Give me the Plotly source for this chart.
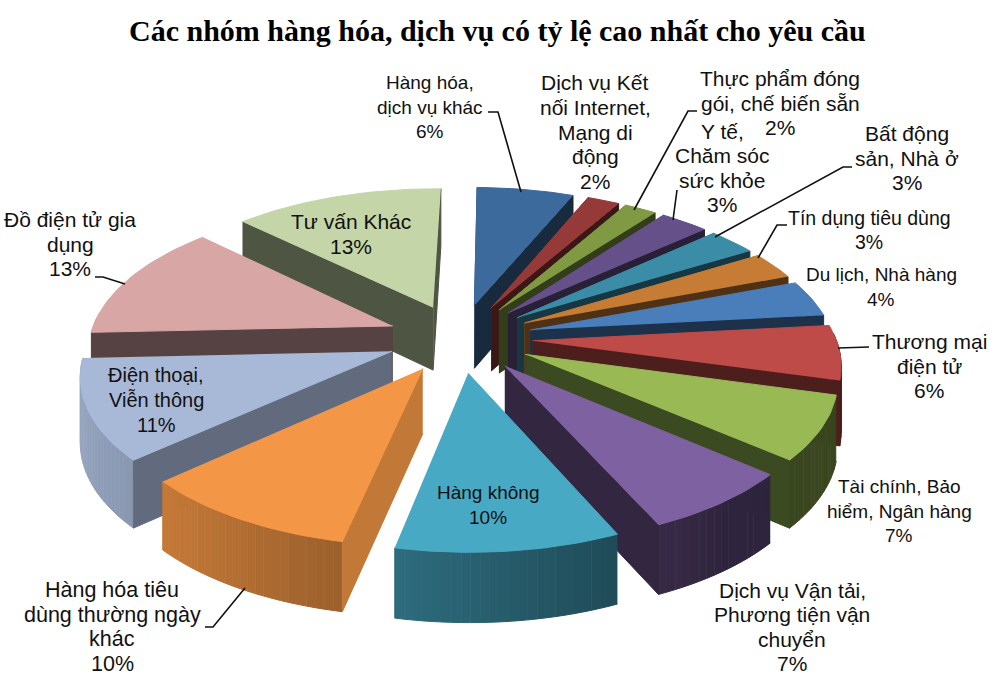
import math
import plotly.graph_objects as go

categories = ["Hàng hóa, dịch vụ khác", "Dịch vụ Kết nối Internet, Mạng di động",
              "Thực phẩm đóng gói, chế biến sẵn", "Y tế, Chăm sóc sức khỏe",
              "Bất động sản, Nhà ở", "Tín dụng tiêu dùng", "Du lịch, Nhà hàng",
              "Thương mại điện tử", "Tài chính, Bảo hiểm, Ngân hàng",
              "Dịch vụ Vận tải, Phương tiện vận chuyển", "Hàng không",
              "Hàng hóa tiêu dùng thường ngày khác", "Điện thoại, Viễn thông",
              "Đồ điện tử gia dụng", "Tư vấn Khác"]
values = [6, 2, 2, 3, 3, 3, 4, 6, 7, 7, 10, 10, 11, 13, 13]
colors = ["#3D6A9C", "#953A38", "#7F9A42", "#66508A", "#3B8CA6", "#C77C35", "#4A7EBB", "#BE4B48",
          "#98B954", "#7E61A1", "#48A9C5", "#F39645", "#A8B9D8", "#D7A6A5", "#C4D5A8"]

# label lines, x, y of block centre, size
labels = [
    (["Hàng hóa,", "dịch vụ khác", "6%"], 430, 107, 19),
    (["Dịch vụ Kết", "nối Internet,", "Mạng di", "động", "2%"], 595, 132, 21),
    (["Thực phẩm đóng", "gói, chế biến sẵn", "2%"], 780, 103, 21),
    (["Y tế,", "Chăm sóc", "sức khỏe", "3%"], 722, 168, 21),
    (["Bất động", "sản, Nhà ở", "3%"], 907, 158, 21),
    (["Tín dụng tiêu dùng", "3%"], 869, 230, 19.5),
    (["Du lịch, Nhà hàng", "4%"], 881, 287, 19),
    (["Thương mại", "điện tử", "6%"], 929, 366, 21),
    (["Tài chính, Bảo", "hiểm, Ngân hàng", "7%"], 899, 511, 19),
    (["Dịch vụ Vận tải,", "Phương tiện vận", "chuyển", "7%"], 792, 627, 21),
    (["Hàng không", "10%"], 488, 505, 19),
    (["Hàng hóa tiêu", "dùng thường ngày", "khác", "10%"], 112, 627, 21.5),
    (["Điện thoại,", "Viễn thông", "11%"], 156, 400, 20),
    (["Đồ điện tử gia", "dụng", "13%"], 70, 244, 21),
    (["Tư vấn Khác", "13%"], 351, 234, 21),
]
LINE_GAP = 24.6
leaders = [
    [(488, 112), (498, 112), (521, 192)],
    [(697, 111), (688, 111), (634, 210)],
    [(677, 190), (673, 220)],
    [(852, 167), (843, 167), (715, 237)],
    [(787, 225), (777, 225), (758, 258)],
    [(869, 347), (838, 348)],
    [(95, 277), (103, 277), (125, 284)],
    [(205, 627), (213, 627), (245, 588)],
]

# projection of the tilted pie
CX, CY, RX, RY, P, H, HP, EXPLODE, START = 460, 338, 303, 143, 0.14, 64, 0.08, 0.24, 1.0


def proj(u, v, z):
    s = 1 / (1 + P * v)
    return CX + RX * u * s, CY - RY * v * s + H * z * (1 - HP * v)


def shade(col, f):
    r, g, b = [int(col[i:i + 2], 16) for i in (1, 3, 5)]
    return f"rgb({int(r * f)},{int(g * f)},{int(b * f)})"


def poly(pts, color):
    return go.Scatter(x=[p[0] for p in pts], y=[p[1] for p in pts], mode="lines", fill="toself",
                      fillcolor=color, line=dict(color=color, width=1), hoverinfo="skip", showlegend=False)


total = sum(values)
slices = []
a = START
for val, col in zip(values, colors):
    sweep = 360 * val / total
    slices.append((a, a + sweep, col))
    a += sweep

fig = go.Figure()
order = sorted(slices, key=lambda s: -math.cos(math.radians((s[0] + s[1]) / 2)))
for a0, a1, col in order:
    mid = math.radians((a0 + a1) / 2)
    ou, ov = EXPLODE * math.sin(mid), EXPLODE * math.cos(mid)
    n = max(4, int((a1 - a0) / 1.5))
    angs = [math.radians(a0 + (a1 - a0) * i / n) for i in range(n + 1)]
    arc = [(ou + math.sin(t), ov + math.cos(t)) for t in angs]
    # rim, lit from the left; only the part that faces the viewer
    for i in range(n):
        if math.cos(angs[i]) < 0.05 or math.cos(angs[i + 1]) < 0.05:
            light = min(0.9, max(0.38, 0.58 - 0.32 * math.sin(angs[i])))
            p, q = arc[i], arc[i + 1]
            fig.add_trace(poly([proj(*p, 0), proj(*q, 0), proj(*q, 1), proj(*p, 1)], shade(col, light)))
    # straight side walls, only those the viewer can see
    if a0 < 60 or a0 >= 180:
        f0 = 0.8 if a0 < 200 else (0.58 if a0 < 240 else 0.4)
        fig.add_trace(poly([proj(ou, ov, 0), proj(*arc[0], 0), proj(*arc[0], 1), proj(ou, ov, 1)], shade(col, f0)))
    if math.sin(math.radians(a1)) > 0:
        fig.add_trace(poly([proj(ou, ov, 0), proj(*arc[-1], 0), proj(*arc[-1], 1), proj(ou, ov, 1)], shade(col, 0.4)))
    fig.add_trace(poly([proj(ou, ov, 0)] + [proj(*p, 0) for p in arc], col))

for line in leaders:
    fig.add_trace(go.Scatter(x=[p[0] for p in line], y=[p[1] for p in line], mode="lines",
                             line=dict(color="#111111", width=1.6), hoverinfo="skip", showlegend=False))

annotations = []
for lines, x, y, s in labels:
    y0 = y - LINE_GAP * (len(lines) - 1) / 2
    for i, t in enumerate(lines):
        annotations.append(dict(x=x, y=y0 + i * LINE_GAP, text=t, showarrow=False,
                                xanchor="center", yanchor="middle",
                                font=dict(family="Liberation Sans", size=s, color="#111111")))
annotations.append(dict(x=497, y=30, text="<b>Các nhóm hàng hóa, dịch vụ có tỷ lệ cao nhất cho yêu cầu</b>",
                        showarrow=False, xanchor="center", yanchor="middle",
                        font=dict(family="Liberation Serif", size=30, color="black")))

fig.update_layout(width=993, height=677, margin=dict(l=0, r=0, t=0, b=0),
                  paper_bgcolor="white", plot_bgcolor="white", showlegend=False,
                  xaxis=dict(range=[0, 993], visible=False, fixedrange=True),
                  yaxis=dict(range=[677, 0], visible=False, fixedrange=True),
                  annotations=annotations)
# remove the page's default body margin so the plot fills the window
fig.write_html("out.html", config=dict(displayModeBar=False),
               post_script="document.body.style.margin='0';document.body.style.overflow='hidden';")
